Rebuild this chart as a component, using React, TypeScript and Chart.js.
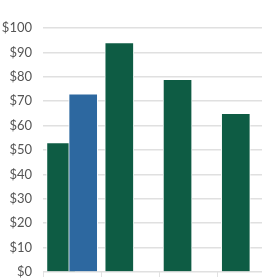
import React, { useEffect, useRef } from "react";
import { Chart, registerables } from "chart.js";

Chart.register(...registerables);

const greenPositions = [0.31, 1.31, 2.31, 3.31];
const greenValues = [53, 94, 79, 65];
const bluePositions = [0.69];
const blueValues = [73];
const yTickStep = 10;

export default function App() {
  const ref = useRef<HTMLCanvasElement | null>(null);
  useEffect(() => {
    if (!ref.current) return;
    const chart = new Chart(ref.current, {
      type: "bar",
      data: {
        datasets: [
          {
            label: "Current",
            data: bluePositions.map((x, i) => ({ x, y: blueValues[i] })),
            backgroundColor: "#2d68a0",
            borderColor: "#ffffff",
            borderWidth: 1,
            grouped: false,
            barThickness: 29,
          },
          {
            label: "Values",
            data: greenPositions.map((x, i) => ({ x, y: greenValues[i] })),
            backgroundColor: "#0e5c44",
            borderColor: "#ffffff",
            borderWidth: 1,
            grouped: false,
            barThickness: 29,
          },
        ],
      },
      options: {
        animation: false,
        responsive: false,
        maintainAspectRatio: false,
        layout: { padding: { top: 28, bottom: 2, left: 0, right: 0 } },
        plugins: { legend: { display: false }, tooltip: { enabled: false } },
        scales: {
          x: {
            type: "linear",
            offset: false,
            min: 0,
            max: 3.76,
            ticks: { display: false, stepSize: 1 },
            grid: { offset: false, drawOnChartArea: false, drawTicks: true, tickLength: 5, color: "#e2e2e2" },
            border: { display: false },
            afterFit: (s: any) => {
              s.height = 6;
            },
          },
          y: {
            min: 0,
            max: 100,
            ticks: {
              stepSize: yTickStep,
              padding: 11,
              color: "#555555",
              font: { family: "Lato", size: 13 },
              callback: (v: any) => "$" + v,
            },
            grid: { color: "#e0e0e0", drawTicks: false, lineWidth: 1.5 },
            border: { display: false },
            afterFit: (s: any) => {
              s.width = 43;
              s.paddingTop = 0;
              s.paddingBottom = 0;
            },
          },
        },
      },
    });
    return () => chart.destroy();
  }, []);
  return (
    <div style={{ position: "absolute", left: 0, top: 0, width: 262, height: 280, background: "#fff" }}>
      <canvas ref={ref} width={262} height={280} style={{ width: 262, height: 280 }} />
    </div>
  );
}
